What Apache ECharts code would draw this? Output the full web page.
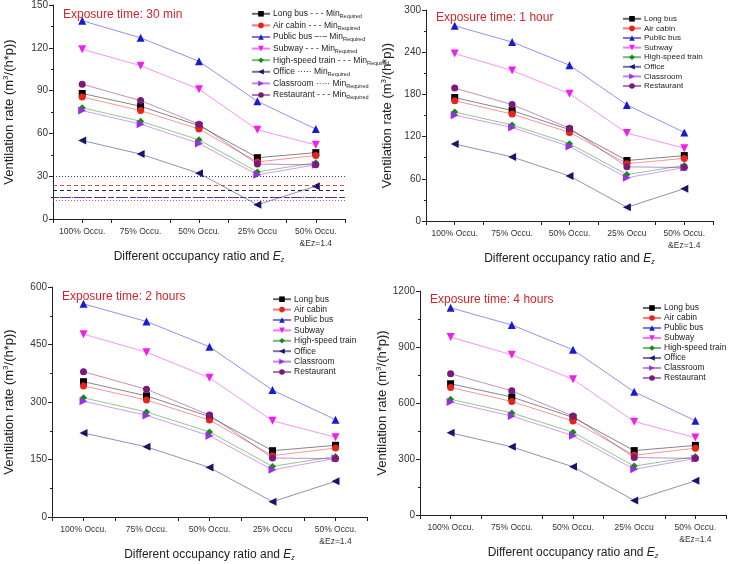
<!DOCTYPE html>
<html><head><meta charset="utf-8">
<script src="https://cdn.jsdelivr.net/npm/echarts@6/dist/echarts.min.js"></script>
<style>html,body{margin:0;padding:0;background:#fff}#c{width:729px;height:564px}</style>
</head><body><div id="c"></div>
<script>
const categories = ['100% Occu.', '75% Occu.', '50% Occu.', '25% Occu', '50% Occu.\n&Ez=1.4'];
const seriesNames = ['Long bus', 'Air cabin', 'Public bus', 'Subway', 'High-speed train', 'Office', 'Classroom', 'Restaurant'];
const panelTitles = ['Exposure time: 30 min', 'Exposure time: 1 hour', 'Exposure time: 2 hours', 'Exposure time: 4 hours'];
const yMax = [150, 300, 600, 1200];
const yInterval = [30, 60, 150, 300];

// values per series (order of seriesNames)
const values30min = [
  [88, 79, 65.5, 43, 46.5],
  [85.5, 76, 63, 40, 44.5],
  [139, 127, 110.5, 82.5, 63],
  [119, 107.5, 91, 62.5, 52],
  [78, 68.5, 55.5, 33, 39.5],
  [55, 45.5, 32, 10, 23],
  [76, 66.5, 53, 31, 38],
  [94.5, 83, 66.5, 38.5, 38]
];
const values1h = [
  [175.5, 157, 130, 86, 93],
  [171, 152, 126, 81.5, 89],
  [277.5, 254.5, 221.5, 165, 126],
  [238, 214, 181, 125, 103.5],
  [155, 136.5, 110, 66, 79],
  [109.5, 91, 64, 19.5, 46],
  [150.5, 133, 106, 61.5, 76],
  [189, 165.5, 132, 77, 76]
];
const values2h = [
  [353, 316, 262, 173, 187],
  [342, 305, 253, 160, 180],
  [556, 510, 444, 331, 254],
  [477, 430, 363, 251, 208],
  [311, 274, 222, 132, 158],
  [219, 183, 129, 40, 93],
  [302, 265, 212, 123, 153],
  [379, 333, 266, 154, 152]
];
const values4h = [
  [703, 632, 523, 345, 373],
  [683, 608, 503, 320, 358],
  [1110, 1018, 885, 660, 505],
  [953, 858, 727, 500, 415],
  [620, 547, 443, 262, 313],
  [440, 365, 258, 78, 183],
  [605, 530, 425, 245, 303],
  [757, 665, 530, 308, 303]
];
// minimum required ventilation rate (30 min panel)
const minRequired = [20, 24, 15, 15, 15, 30, 13.3, 15];

const allValues = [values30min, values1h, values2h, values4h];

const colors = ['#000000', '#e8231c', '#1a1ad2', '#f01ef0', '#178a17', '#16166e', '#9a2ee6', '#7a1a7a'];
const symbols = ['rect', 'circle', 'triangle', 'triangle', 'diamond', 'triangle', 'triangle', 'circle'];
const rotations = [0, 0, 0, 180, 0, 90, -90, 0];
const minTypes = [[4,3], [4,3], [6,2,1,2], [4,3], [4,3], [1,2], [1,2], [4,3]];

const grids = [
  {left: 53, top: 5, width: 292, height: 214},
  {left: 426, top: 10, width: 287, height: 211},
  {left: 52, top: 287, width: 315, height: 230},
  {left: 420, top: 291, width: 306, height: 224}
];
const titlePos = [[63, 9], [436, 12], [62, 291], [430, 294]];
const yNameGap = [37, 32, 36, 31];
const xNameGap = [31, 29, 29, 30];
const legendPos = [
  {left: 251, top: 8, gap: 11.6, font: 8.5},
  {left: 622, top: 14, gap: 9.6, font: 8},
  {left: 272, top: 294, gap: 10.4, font: 8.5},
  {left: 642, top: 303, gap: 10, font: 8.5}
];

const FONT = 'Liberation Sans, Arial, sans-serif';
const xAxes = [], yAxes = [], series = [], legends = [], titles = [];
for (let p = 0; p < 4; p++) {
  xAxes.push({
    type: 'category', gridIndex: p, data: categories, position: 'bottom',
    axisLine: {lineStyle: {color: '#222', width: 1}},
    axisTick: {show: true, length: 4, lineStyle: {color: '#222'}},
    axisLabel: {fontFamily: FONT, fontSize: 8.5, color: '#333', margin: 7, lineHeight: 12, interval: 0},
    name: 'Different occupancy ratio and {i|E}{sub|z}',
    nameLocation: 'middle', nameGap: xNameGap[p],
    nameTextStyle: {fontFamily: FONT, fontSize: 12, color: '#222',
      rich: {i: {fontFamily: FONT, fontSize: 12, fontStyle: 'italic', color: '#222'},
             sub: {fontFamily: FONT, fontSize: 7, fontStyle: 'italic', color: '#222', verticalAlign: 'bottom', padding: [6, 0, 0, 0]}}}
  });
  xAxes.push({
    type: 'category', gridIndex: p, data: categories, position: 'bottom',
    axisLine: {show: false},
    axisTick: {show: true, alignWithLabel: true, length: 4, lineStyle: {color: '#222'}},
    axisLabel: {show: false}
  });
  yAxes.push({
    type: 'value', gridIndex: p, min: 0, max: yMax[p], interval: yInterval[p],
    axisLine: {show: true, lineStyle: {color: '#222', width: 1}},
    axisTick: {show: true, length: 4, lineStyle: {color: '#222'}},
    minorTick: {show: true, splitNumber: 2, length: 2, lineStyle: {color: '#222'}},
    splitLine: {show: false},
    axisLabel: {fontFamily: FONT, fontSize: 10, color: '#333', margin: 5, formatter: v => String(v)},
    name: 'Ventilation rate (m{sup|3}/(h*p))',
    nameLocation: 'middle', nameGap: yNameGap[p], nameRotate: 90,
    nameTextStyle: {fontFamily: FONT, fontSize: 13, color: '#222',
      rich: {sup: {fontFamily: FONT, fontSize: 8, color: '#222', verticalAlign: 'top', padding: [0, 0, 6, 0]}}}
  });
  titles.push({
    text: panelTitles[p], left: titlePos[p][0], top: titlePos[p][1], padding: 0,
    textStyle: {fontFamily: FONT, fontSize: 12, fontWeight: 'normal', color: '#d0262b'}
  });
  const lp = legendPos[p];
  const legendCfg = {
    orient: 'vertical', left: lp.left, top: lp.top, padding: 0,
    itemWidth: 18, itemHeight: 7, itemGap: 0,
    data: seriesNames,
    textStyle: {fontFamily: FONT, fontSize: lp.font, lineHeight: lp.gap, height: lp.gap, color: '#222', padding: [0, 0, 0, -2]},
    selectedMode: false
  };
  if (p === 0) {
    legendCfg.formatter = function (name) {
      const i = seriesNames.indexOf(name);
      const mark = minTypes[i].length === 2 && minTypes[i][0] === 1 ? '·····' : (minTypes[i].length === 4 ? '–·–' : '- - -');
      return name + ' ' + mark + ' Min{sub|Required}';
    };
    legendCfg.textStyle.rich = {sub: {fontFamily: FONT, fontSize: 5.5, color: '#222', lineHeight: lp.gap, verticalAlign: 'bottom', padding: [4, 0, 0, 0]}};
  }
  legends.push(legendCfg);
  for (let s = 0; s < seriesNames.length; s++) {
    const ser = {
      name: seriesNames[s], type: 'line', xAxisIndex: p * 2, yAxisIndex: p,
      data: allValues[p][s],
      symbol: symbols[s], symbolSize: symbols[s] === 'triangle' ? 8 : 7, symbolRotate: rotations[s],
      itemStyle: {color: colors[s]},
      lineStyle: {color: colors[s], width: 0.8, opacity: 0.6},
      animation: false, z: 3
    };
    if (p === 0) {
      ser.markLine = {
        silent: true, symbol: 'none', animation: false,
        label: {show: false},
        lineStyle: {color: colors[s], type: minTypes[s], width: 1, opacity: 0.85},
        data: [{yAxis: minRequired[s]}]
      };
    }
    series.push(ser);
  }
}

const chart = echarts.init(document.getElementById('c'), null, {renderer: 'canvas'});
chart.setOption({
  backgroundColor: '#fff',
  animation: false,
  title: titles,
  legend: legends,
  grid: grids,
  xAxis: xAxes,
  yAxis: yAxes,
  series: series
});
</script>
</body></html>
